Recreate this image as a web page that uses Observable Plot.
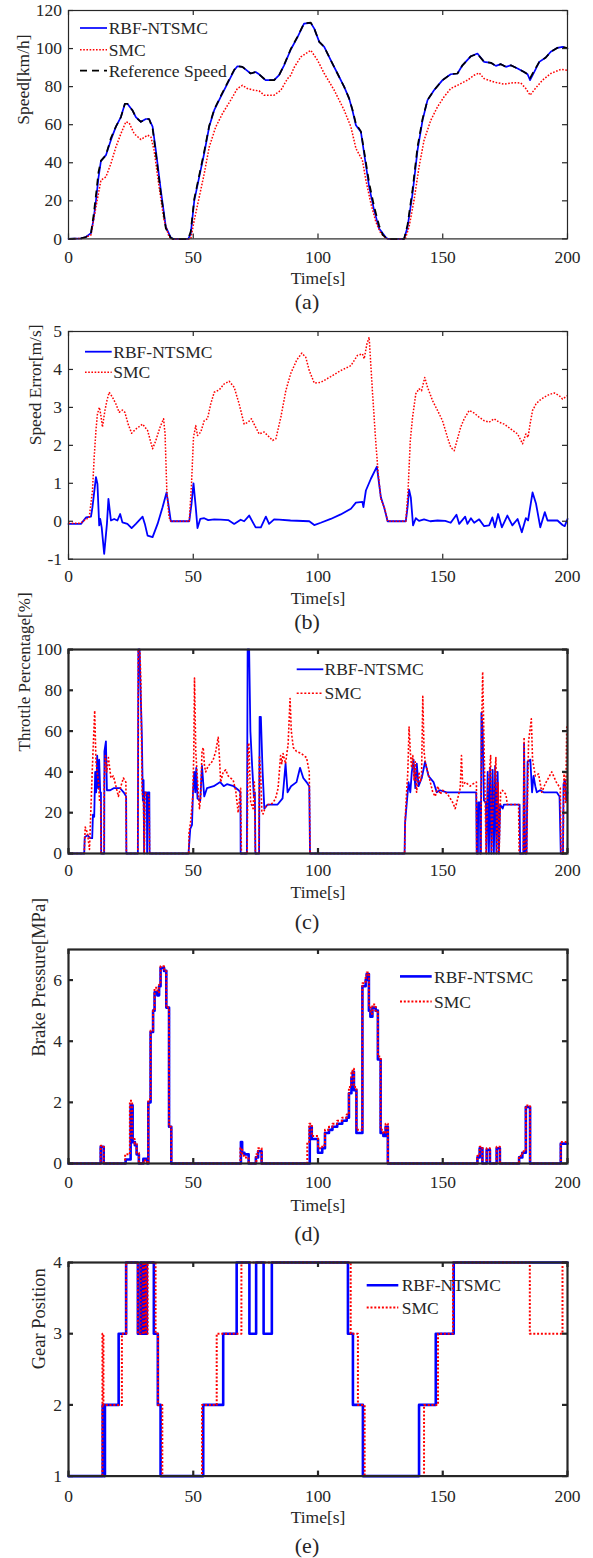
<!DOCTYPE html>
<html><head><meta charset="utf-8">
<script src="https://cdn.jsdelivr.net/npm/d3@7"></script>
<script src="https://cdn.jsdelivr.net/npm/@observablehq/plot@0.6"></script>
<style>
html,body{margin:0;padding:0;background:#fff;}
#fig{position:relative;width:593px;height:1558px;}
#fig svg{position:absolute;left:0;}
#fig svg, #fig svg text{font-family:'Liberation Serif','Times New Roman',serif !important;font-weight:normal !important;}
</style></head><body><div id="fig"></div><script>
// ---------------- DATA ----------------
const xTicks = [0, 50, 100, 150, 200];
const seriesLabels = ["RBF-NTSMC", "SMC", "Reference Speed"];
const panelLetters = ["(a)", "(b)", "(c)", "(d)", "(e)"];
const xLabel = "Time[s]";
const yLabels = ["Speed[km/h]", "Speed Error[m/s]", "Throttle Percentage[%]", "Brake Pressure[MPa]", "Gear Position"];

// (a) speed
const speedTicks = [0, 20, 40, 60, 80, 100, 120];
const speedRbf = [[0,0],[5,0.3],[7,1],[9,3],[10,10],[11,20],[12,32],[13,41],[15,44],[17,52],[19,59],[21,64],[22.6,71],[23.6,71],[25.6,67.6],[27,64],[29,61.5],[31,63],[32.3,63],[33.7,59],[35,46.6],[37,25.6],[39,6.3],[41,0.7],[42,0],[48,0],[49,2.8],[50.4,20],[52.4,32.6],[54.4,45],[56.4,59],[58.4,67.6],[61,74.6],[63.7,81.6],[66.4,88.6],[67.7,90.7],[69.7,90.4],[71.7,88.3],[73,86.9],[75,87.7],[76.4,86.5],[79,83.4],[82.4,83.4],[84.4,86],[86.4,91.2],[89.1,99.5],[91.8,106],[94.4,113.1],[97.1,113.5],[98.5,110.5],[100.5,103.5],[102.5,100.9],[105.1,93.9],[107.8,86.9],[110.5,79.9],[112.5,73.7],[113.8,67.6],[115.2,59.7],[117.2,56.2],[118.5,44.8],[120.5,27.3],[122.5,15],[124.5,5.4],[127.2,0.7],[128,0],[134.5,0],[135.9,6.3],[137.9,23.8],[139.9,46.6],[141.9,62.3],[143.9,72.9],[146.5,78.1],[149.9,83.4],[153.2,86.5],[155.9,86.9],[157.9,91.2],[161.3,96],[163.9,97.4],[166.6,93],[169.3,92.5],[171.3,90.9],[173.3,91.8],[175.3,90.4],[177.3,91.2],[180,89.5],[182.6,87.7],[184,86.5],[185,83.4],[186.7,87.7],[188.7,93],[191.3,95.3],[193.3,98.3],[196,100.4],[198,100.9],[200,100]];
const speedSmc = [[0,0],[6,0.3],[9,2],[11,16.8],[13,30.8],[15,32.6],[17,39.6],[19,48.3],[21,55.3],[23,61.5],[24.3,61],[26.3,55.3],[29,52.2],[31.7,54.5],[33,53.6],[34.3,46.6],[36.3,27.3],[38.3,9.8],[40.3,1],[41.5,0],[49,0],[50.4,9.8],[52.4,22],[54.4,34.3],[56.4,48.3],[59,58.8],[61.7,65.8],[65,72.9],[67.7,79],[69.7,80.7],[71.7,79],[74.4,78.1],[76.4,77.8],[78.4,75.5],[82.4,75.5],[85.1,78.1],[87.8,84.2],[89.1,86],[90.4,90],[93.1,95.6],[97.1,99.1],[99.8,93.9],[102.5,86.9],[106.5,78.1],[110.5,67.6],[113.2,58.8],[115.2,47.5],[117.8,41.3],[119.2,30.8],[121.2,18.6],[123.2,8.9],[125.2,2.8],[127.2,0.4],[128,0],[135,0],[136.5,6.3],[138.5,20.3],[140.5,37.8],[142.5,51.8],[145.2,62.3],[147.9,69.4],[150.5,74.6],[153.2,79],[155.9,80.7],[159.9,83.4],[162.6,86],[164.6,87.2],[166.6,84.2],[170.6,82.4],[174.6,81.3],[178.7,82.1],[181.3,81.9],[183.3,79],[185,75.5],[187.4,79.5],[190,83.4],[193.3,86.9],[197.4,89.1],[200,88.6]];
const speedRef = [[0,0],[5,0.3],[7,1],[9,3],[10,12],[11,23],[12,35],[13,41],[15,44],[17,53],[19,59],[21,64],[22.6,71],[23.6,71],[25.6,67.6],[27,64],[29,61.5],[31,63],[32.3,63],[33.7,58],[35,45],[37,24],[39,5.5],[41,0.5],[42,0],[48,0],[49,4],[50.4,21],[52.4,33.5],[54.4,46],[56.4,59.5],[58.4,68],[61,75],[63.7,82],[66.4,88.8],[67.7,90.7],[69.7,90.4],[71.7,88.3],[73,86.9],[75,87.7],[76.4,86.5],[79,83.4],[82.4,83.4],[84.4,86],[86.4,91.4],[89.1,99.8],[91.8,106.3],[94.4,113.3],[97.1,113.6],[98.5,110.5],[100.5,103.5],[102.5,100.9],[105.1,93.9],[107.8,86.9],[110.5,79.9],[112.5,73.7],[113.8,68],[115.2,60.5],[117.2,56.5],[118.5,46],[120.5,29.5],[122.5,17],[124.5,7],[126,2],[127.2,0.7],[128,0],[134.5,0],[135.9,7.5],[137.9,26],[139.9,48.5],[141.9,63],[143.9,73],[146.5,78.1],[149.9,83.4],[153.2,86.5],[155.9,86.9],[157.9,91.2],[161.3,96],[163.9,97.2],[166.6,93],[169.3,92.5],[171.3,90.9],[173.3,91.8],[175.3,90.4],[177.3,91.2],[180,89.5],[182.6,87.7],[184,86.5],[185,84.5],[186.7,88.5],[188.7,93],[191.3,95.3],[193.3,98.3],[196,100.4],[198,100.9],[200,100.3]];

// (b) speed error
const errTicks = [-1, 0, 1, 2, 3, 4, 5];
const errRbf = [[0,-0.07],[5,-0.07],[7,0.1],[9,0.12],[9.6,0.37],[11,1.16],[11.6,0.98],[12.3,-0.11],[12.7,0.06],[13.3,-0.16],[14.3,-0.86],[15.4,-0.07],[16,0.59],[17,0.02],[18.3,0.06],[19.6,0.02],[20.7,0.19],[21.6,-0.03],[23.6,-0.07],[25.3,-0.18],[27,-0.07],[28.3,0.02],[29.7,0.12],[30.6,-0.07],[31.7,-0.38],[33.7,-0.42],[35.7,-0.07],[37.7,0.37],[39.3,0.76],[40,0.46],[41,0],[48.4,0],[49.3,0.46],[50.1,1.0],[51,0.37],[51.7,-0.18],[52.8,0.06],[54.4,0.08],[56,0.03],[58.4,0.05],[61,0.04],[64,0.03],[66.4,-0.07],[69,0.04],[70.4,0],[72.4,0.15],[75,-0.16],[77.1,-0.16],[79.1,0.12],[80.4,-0.07],[82.4,0.05],[84.4,0.04],[89,0.02],[96.5,0],[98.5,-0.1],[101.1,-0.04],[105.1,0.06],[109.1,0.18],[113.2,0.33],[115.2,0.49],[117.8,0.51],[118.2,0.37],[119.2,0.81],[121.2,1.12],[123.6,1.44],[125.2,0.63],[126.5,0.37],[127.9,0],[135.2,0],[135.9,0.37],[136.5,0.83],[137.2,0.63],[138.1,-0.11],[139.2,0.08],[140.5,0.01],[142.5,0.05],[145,0],[147.9,0.02],[151,0.01],[153.2,-0.04],[155.5,0.17],[156.6,-0.07],[159,0.12],[159.9,-0.07],[161.3,0.08],[162.6,-0.04],[164.6,0.05],[166.6,-0.13],[168.6,-0.11],[169.9,0.1],[170.9,-0.16],[172.2,0.19],[173.7,-0.16],[175.9,0.15],[177.9,-0.11],[180,0.06],[181.7,-0.29],[183.3,0.08],[184.2,0.02],[186,0.76],[187.4,0.46],[189.1,-0.16],[190.9,0.24],[192,0.02],[196,0.02],[198,-0.1],[198.9,-0.13],[200,0.06]];
const errSmc = [[0,-0.05],[5,-0.05],[6.3,0.02],[8.3,0.1],[9.6,0.8],[10.3,1.7],[11,2.4],[11.6,2.83],[12.4,3.0],[13,2.78],[13.6,2.48],[14.6,2.92],[15.4,3.18],[16.3,3.4],[17.6,3.27],[19,3.09],[20.3,2.87],[21.6,2.93],[22.6,2.87],[23.9,2.56],[25.3,2.32],[27,2.43],[29.7,2.56],[31.7,2.39],[33.7,1.91],[35,2.13],[36.7,2.48],[38.1,2.7],[38.7,2.3],[39.4,0.81],[40.3,0.1],[41,0],[48.4,0],[49.3,0.98],[50.1,2.21],[51,2.52],[51.7,2.26],[53,2.35],[54.4,2.65],[55.7,2.7],[57,3.09],[58.4,3.4],[60.4,3.46],[62.4,3.62],[64.4,3.69],[66.4,3.53],[68.4,3.09],[70.4,2.56],[72,2.61],[73.3,2.7],[75,2.48],[76.4,2.3],[78.4,2.35],[79.8,2.26],[81.8,2.13],[83.1,2.17],[85.1,2.74],[87.1,3.44],[89.1,3.9],[91.5,4.25],[93.5,4.43],[95.1,4.32],[96.5,3.97],[98.5,3.64],[101.1,3.66],[105.1,3.81],[109.1,3.97],[113.2,4.1],[115.8,4.37],[117.8,4.41],[118.5,4.28],[119.6,4.67],[120.5,4.85],[121.8,3.44],[123.2,2.04],[124.1,1.29],[125.2,0.59],[126.8,0.32],[127.9,0],[135.2,0],[136.1,0.81],[137,2.13],[137.9,2.74],[139.2,3.36],[140.5,3.49],[141.5,3.44],[142.8,3.79],[143.9,3.53],[145.9,3.18],[147.9,2.92],[149.9,2.65],[151.9,2.21],[153.2,1.95],[154.6,1.86],[155.9,2.17],[157.2,2.48],[158.6,2.7],[160.6,2.92],[162.6,2.85],[164.6,2.74],[166.6,2.65],[168.6,2.61],[170.6,2.7],[172.6,2.61],[174.6,2.56],[177.3,2.43],[180,2.3],[182,2.04],[183.3,2.3],[184.2,2.21],[185,2.56],[186,2.92],[187.4,3.09],[188.7,3.18],[190.7,3.27],[192.7,3.34],[194.7,3.38],[196.7,3.31],[198,3.22],[200,3.31]];

// (c) throttle
const throttleTicks = [0, 20, 40, 60, 80, 100];
const throttleRbf = [[0,0],[6.3,0],[6.5,8],[7.6,9],[8.7,7.5],[9.5,7.5],[9.8,19],[10.3,18],[10.7,40],[11.1,30],[11.5,48],[11.9,32],[12.3,46],[12.7,30],[13,30],[13.1,0],[14.3,0],[14.4,50],[15,55],[15.4,31],[16.7,31],[18.1,32],[20.7,32],[22.1,30],[23.1,28],[23.2,0],[27.8,0],[28,100],[28.5,100],[28.8,84],[29.4,58],[29.8,26],[30.1,36],[30.3,0],[30.5,30],[31.4,30],[31.5,0],[31.8,30],[32.4,30],[32.5,0],[48.1,0],[48.8,12],[49.5,14],[49.9,30],[50.4,40],[50.8,30],[51.2,42],[51.7,27],[52.8,26],[53.5,43],[54.4,28],[55.5,32],[58.2,33],[60.8,35],[62.2,33],[63.5,34],[66.2,33],[68.2,31],[68.9,30],[69,0],[71.5,0],[71.8,100],[72.4,100],[72.9,60],[73.6,43],[74.3,28],[74.7,30],[74.9,0],[76.4,0],[76.6,67],[77.1,67],[77.8,40],[78.5,22],[79.8,24],[83.8,24],[85.8,27],[87,44],[87.8,30],[89.2,33],[91.4,35],[92.8,42],[94.1,37],[95.4,35],[96.5,33],[96.8,0],[134.7,0],[134.9,15],[135.6,25],[136.3,35],[137,30],[137.6,40],[138.3,46],[139,32],[139.6,44],[140.3,33],[141.6,37],[142.9,45],[144.3,38],[146.3,35],[147.6,30],[148.9,31],[151.6,30],[155.6,30],[159.7,30],[163.4,30],[163.6,0],[164.1,0],[164.2,25],[164.9,25],[165,0],[165.3,0],[165.5,69],[166,60],[166.5,26],[167.3,25],[167.5,0],[168,40],[168.5,0],[169,42],[169.5,0],[170,41],[170.5,0],[171,43],[171.5,0],[172,40],[172.5,0],[173,24],[174,22],[174.5,24],[180.8,24],[181,0],[182.3,0],[182.6,54],[183,0],[183.6,0],[184,45],[185.1,46],[185.8,30],[186.4,38],[187.1,33],[187.7,30],[189,31],[190.4,30],[195.7,30],[196.8,28],[197.3,0],[198.2,0],[198.4,34],[199,36],[199.5,26],[200,30]];
const throttleSmc = [[0,0],[6.3,0],[6.7,13],[7.6,10],[8.4,2],[8.5,5],[9.5,40],[10,55],[10.5,70],[11,45],[11.5,40],[12,35],[12.5,25],[12.9,25],[13,0],[14.2,0],[14.3,35],[14.8,48],[15.3,40],[16,47],[17,37],[18,38],[19,33],[20,28],[21,33],[22,37],[23,35],[23.2,0],[27.8,0],[28,100],[28.6,100],[29,85],[29.5,30],[30,27],[30.4,0],[30.7,30],[32.3,28],[32.5,0],[48.2,0],[48.3,10],[49,16],[49.8,28],[50.2,48],[50.5,86],[51,50],[51.5,40],[52,30],[52.5,22],[53,28],[53.5,50],[54,52],[54.5,43],[55,40],[56,43],[57,44],[58,46],[59,50],[60,57],[60.5,47],[61,35],[62,40],[63,41],[64,38],[65,37],[66,36],[67,31],[68,20],[69,32],[69.3,0],[71.6,0],[72,54],[72.3,54],[73,25],[74,22],[74.5,35],[74.9,0],[76.3,0],[76.5,48],[77,40],[77.5,20],[78,19.4],[79,23],[80,24],[81,24],[82,25],[83,27],[84,32],[85,48],[85.5,44],[86,49],[87,44],[87.5,49],[88,53],[88.8,76],[89.3,60],[90.1,52],[91.4,50],[93.3,49],[95.4,47],[96.5,40],[96.8,0],[134.7,0],[135,18],[135.5,30],[136,40],[136.5,62],[137,50],[137.5,42],[138,48],[138.5,36],[139,45],[139.5,30],[140,35],[140.5,40],[141,35],[141.5,38],[142,77],[142.5,50],[143,45],[144,40],[145,35],[146,30],[147,28],[148,33],[149,29],[150,31],[151,30],[152,29],[153,27],[154,25],[155,22],[156,27],[157,32],[157.5,48],[158,33],[159,35],[160,34],[161,33],[162,34],[163.5,35],[163.6,0],[165.3,0],[165.6,63],[166,89],[166.4,63],[167,26],[167.4,0],[168,30],[169.2,48],[169.6,0],[170,20],[171.3,47],[171.7,0],[172.2,35],[172.6,0],[173.2,30],[173.9,31],[175.3,29],[175.9,24],[180.4,24],[180.6,0],[182.3,0],[182.6,57],[183,0],[183.6,0],[184.4,55],[185.5,66],[186,46],[187.1,38],[188.4,39],[189.7,30],[191,34],[193.7,40],[195.5,35],[197.1,32],[197.4,0],[198.2,0],[198.6,40],[199.3,25],[199.7,62],[200,60]];

// (d) brake pressure (step values)
const brakeTicks = [0, 2, 4, 6];
const brakeRbf = [[0,0],[12.9,0.55],[14.1,0],[22.9,0.13],[24.9,1.9],[25.7,0.7],[26.6,0.6],[27.3,0.3],[28.2,0],[30,0.15],[31.6,0],[32,2.0],[32.9,4.3],[33.9,5.0],[34.5,5.6],[35.6,5.5],[36.3,5.8],[36.9,6.4],[38.3,6.3],[39.2,5.1],[40.3,1.2],[41.2,0],[69.1,0.7],[69.6,0.35],[70.5,0.3],[72.2,0],[75.1,0.2],[76,0.4],[77.4,0],[96.7,1.2],[97.5,0.8],[100,0.35],[101.7,0.5],[102.8,1.0],[104.4,1.1],[105.8,1.2],[107.7,1.3],[109.7,1.4],[111.5,1.5],[112.4,2.3],[113.4,2.8],[113.9,3.0],[114.4,2.4],[115.4,1.0],[117.8,5.8],[119.1,6.0],[119.5,6.2],[120.4,5.0],[121,4.8],[121.8,5.1],[123.1,5.0],[124,3.4],[125.1,1.0],[126.2,0.9],[127.1,1.2],[128,0],[163.9,0.2],[164.8,0.5],[165.9,0],[167.6,0.45],[168.9,0],[171.6,0.5],[172.9,0],[180.6,0.2],[181.9,0.35],[183.3,1.85],[185,0],[197.3,0.65],[200,0.65]];
const brakeSmc = [[0,0],[12.9,0.58],[14.1,0],[22.7,0.3],[24.6,2.05],[25.5,0.8],[26.5,0.65],[27.3,0.35],[28.2,0],[30,0.1],[31.6,0],[32,2.1],[32.9,4.35],[33.9,5.0],[34.5,5.75],[35.6,5.6],[36.3,5.85],[36.9,6.45],[38.3,6.35],[39.2,5.1],[40.3,1.2],[41.2,0],[68.9,0.5],[69.6,0.25],[70.5,0.2],[72.2,0],[75.3,0.3],[76,0.5],[77.4,0],[95.7,0.7],[96.5,1.3],[97.5,0.9],[100,0.5],[101.7,0.6],[102.8,1.1],[104.4,1.2],[105.8,1.3],[107.7,1.4],[109.7,1.5],[111.5,1.6],[112.4,2.5],[113.4,3.0],[113.9,3.1],[114.4,2.5],[115.4,1.1],[117.8,5.9],[119.1,6.1],[119.5,6.25],[120.4,5.1],[121,4.9],[121.8,5.2],[123.1,5.0],[124,3.5],[125.1,1.1],[126.2,1.0],[127.1,1.3],[128,0],[163.9,0.25],[164.8,0.55],[165.9,0],[167.6,0.5],[168.9,0],[171.6,0.55],[172.9,0],[180.6,0.25],[181.9,0.4],[183.3,1.9],[185,0],[197.3,0.7],[200,0.7]];

// (e) gear position (step values)
const gearTicks = [1, 2, 3, 4];
const gearRbf = [[0,1],[13.7,2],[14.1,1],[14.6,2],[20.1,3],[23.1,4],[27.8,3],[28.9,4],[29.6,3],[30.2,4],[30.8,3],[31.4,4],[34.2,3],[35.8,2],[36.9,1],[54,2],[62,3],[67.4,4],[72.5,3],[75.2,4],[78.2,3],[81.5,4],[112,3],[114,2],[118,1],[140.5,2],[147.2,3],[154.4,4],[200,4]];
const gearSmc = [[0,1],[13.6,3],[14.0,2],[21.4,3],[23.1,4],[27.8,3],[28.9,4],[29.9,3],[30.5,4],[31.1,3],[31.7,4],[34.9,3],[35.9,2],[37.6,1],[53.5,2],[59.4,3],[69.3,4],[113.1,3],[116,2],[118.7,1],[142.5,2],[148.1,3],[154.1,4],[184.9,3],[198,4],[200,4]];

// ---------------- RENDER ----------------
const FONT = "Liberation Serif";
const INK = "#262626";
const BLUE = "#0000ff", RED = "#ff0000", BLACK = "#000000";
const W = 593, ML = 68, MR = 26, MT = 10, MB = 92;
const fig = document.getElementById("fig");

function panel(cfg) {
  const H = MT + cfg.frameH + MB;
  const plotW = W - ML - MR;
  const tl = 5;
  const marks = [];
  for (const s of cfg.series) {
    marks.push(Plot.line(s.data, {x: d => d[0], y: d => d[1], stroke: s.color, strokeWidth: s.width,
      strokeDasharray: s.dash, curve: cfg.curve, strokeLinejoin: "round", strokeLinecap: s.dash ? "butt" : "round"}));
  }
  const tw = cfg.thick;
  marks.push(
    Plot.tickX(xTicks, {x: d => d, insetTop: cfg.frameH - tl, stroke: INK, strokeWidth: tw}),
    Plot.tickX(xTicks, {x: d => d, insetBottom: cfg.frameH - tl, stroke: INK, strokeWidth: tw}),
    Plot.tickY(cfg.yTicks, {y: d => d, insetRight: plotW - tl, stroke: INK, strokeWidth: tw}),
    Plot.tickY(cfg.yTicks, {y: d => d, insetLeft: plotW - tl, stroke: INK, strokeWidth: tw}),
    Plot.frame({stroke: INK, strokeWidth: tw}),
    Plot.axisX({ticks: xTicks, tickSize: 0, tickPadding: cfg.xPad, tickFormat: d => String(d), label: null, fontSize: 17.5, fontFamily: FONT, fill: INK}),
    Plot.axisY({ticks: cfg.yTicks, tickSize: 0, tickPadding: 6.5, tickFormat: d => String(d), label: null, fontSize: 17.5, fontFamily: FONT, fill: INK}),
    Plot.text([xLabel], {text: d => d, frameAnchor: "bottom", dy: cfg.labDy, lineAnchor: "middle", fontSize: 17.5, fontFamily: FONT, fill: INK}),
    Plot.text([cfg.letter], {text: d => d, frameAnchor: "bottom", dx: -11, dy: cfg.letDy, lineAnchor: "middle", fontSize: 22, fontFamily: FONT, fill: INK}),
    Plot.text([cfg.yLabel], {text: d => d, frameAnchor: "left", rotate: -90, dx: cfg.yLabX - ML, lineAnchor: "middle", fontSize: cfg.yLabSize, fontFamily: FONT, fill: INK})
  );
  const svg = Plot.plot({
    width: W, height: H,
    marginLeft: ML, marginRight: MR, marginTop: MT, marginBottom: MB,
    x: {domain: [0, 200]},
    y: {domain: cfg.yDomain},
    style: {fontFamily: FONT, fontSize: "17.5px", color: INK, background: "transparent", overflow: "visible"},
    marks
  });
  const top = cfg.frameTop - MT;
  svg.style.top = top + "px";
  // legend
  const g = d3.select(svg).append("g").attr("font-family", FONT).attr("font-size", 17.5).attr("fill", INK).attr("text-anchor", "start");
  cfg.legend.items.forEach((it, i) => {
    const y = cfg.legend.rows[i] - top;
    g.append("line").attr("x1", cfg.legend.x1).attr("x2", cfg.legend.x2).attr("y1", y).attr("y2", y)
      .attr("stroke", it.color).attr("stroke-width", it.width).attr("stroke-dasharray", it.dash || null);
    g.append("text").attr("x", cfg.legend.tx).attr("y", y).attr("dy", "0.35em").attr("text-anchor", "start").text(it.label);
  });
  fig.appendChild(svg);
}

const dotA = "1.6,1.6", dotB = "2,1.8";

panel({frameTop: 10.3, frameH: 228.4, yDomain: [0, 120], yTicks: speedTicks, thick: 1.2, curve: "linear",
  xPad: 11.3, labDy: 39.6, letDy: 63, letter: panelLetters[0], yLabel: yLabels[0], yLabX: 23.3, yLabSize: 17.5,
  series: [
    {data: speedRbf, color: BLUE, width: 1.7},
    {data: speedSmc, color: RED, width: 1.5, dash: dotA},
    {data: speedRef, color: BLACK, width: 1.7, dash: "7,5"}
  ],
  legend: {x1: 80, x2: 107, tx: 108.7, rows: [28.3, 50, 71], items: [
    {label: seriesLabels[0], color: BLUE, width: 1.7},
    {label: seriesLabels[1], color: RED, width: 1.5, dash: dotA},
    {label: seriesLabels[2], color: BLACK, width: 1.7, dash: "7,5"}
  ]}
});

panel({frameTop: 331, frameH: 227.7, yDomain: [-1, 5], yTicks: errTicks, thick: 1.2, curve: "linear",
  xPad: 10.7, labDy: 39.6, letDy: 63, letter: panelLetters[1], yLabel: yLabels[1], yLabX: 35, yLabSize: 17.5,
  series: [
    {data: errRbf, color: BLUE, width: 1.8},
    {data: errSmc, color: RED, width: 1.5, dash: dotA}
  ],
  legend: {x1: 85, x2: 111.7, tx: 113.3, rows: [351.7, 372.3], items: [
    {label: seriesLabels[0], color: BLUE, width: 1.8},
    {label: seriesLabels[1], color: RED, width: 1.5, dash: dotA}
  ]}
});

panel({frameTop: 649, frameH: 204, yDomain: [0, 100], yTicks: throttleTicks, thick: 2.2, curve: "linear",
  xPad: 10.3, labDy: 39.3, letDy: 68.7, letter: panelLetters[2], yLabel: yLabels[2], yLabX: 24, yLabSize: 17,
  series: [
    {data: throttleRbf, color: BLUE, width: 1.8},
    {data: throttleSmc, color: RED, width: 1.6, dash: dotB}
  ],
  legend: {x1: 296.7, x2: 323.3, tx: 324.5, rows: [669.3, 693.3], items: [
    {label: seriesLabels[0], color: BLUE, width: 1.8},
    {label: seriesLabels[1], color: RED, width: 1.6, dash: dotB}
  ]}
});

panel({frameTop: 949.3, frameH: 214, yDomain: [0, 7], yTicks: brakeTicks, thick: 2.2, curve: "step-after",
  xPad: 11.7, labDy: 41.7, letDy: 70, letter: panelLetters[3], yLabel: yLabels[3], yLabX: 39, yLabSize: 18.5,
  series: [
    {data: brakeRbf, color: BLUE, width: 2.6},
    {data: brakeSmc, color: RED, width: 2, dash: dotB}
  ],
  legend: {x1: 400, x2: 431.7, tx: 434, rows: [976.7, 1001.7], items: [
    {label: seriesLabels[0], color: BLUE, width: 2.6},
    {label: seriesLabels[1], color: RED, width: 2, dash: dotB}
  ]}
});

panel({frameTop: 1261.7, frameH: 213.6, yDomain: [1, 4], yTicks: gearTicks, thick: 2.2, curve: "step-after",
  xPad: 13, labDy: 41.4, letDy: 69.5, letter: panelLetters[4], yLabel: yLabels[4], yLabX: 39, yLabSize: 18.5,
  series: [
    {data: gearRbf, color: BLUE, width: 2.6},
    {data: gearSmc, color: RED, width: 2, dash: dotB}
  ],
  legend: {x1: 366.7, x2: 398.3, tx: 401.7, rows: [1285, 1307.3], items: [
    {label: seriesLabels[0], color: BLUE, width: 2.6},
    {label: seriesLabels[1], color: RED, width: 2, dash: dotB}
  ]}
});
</script></body></html>
